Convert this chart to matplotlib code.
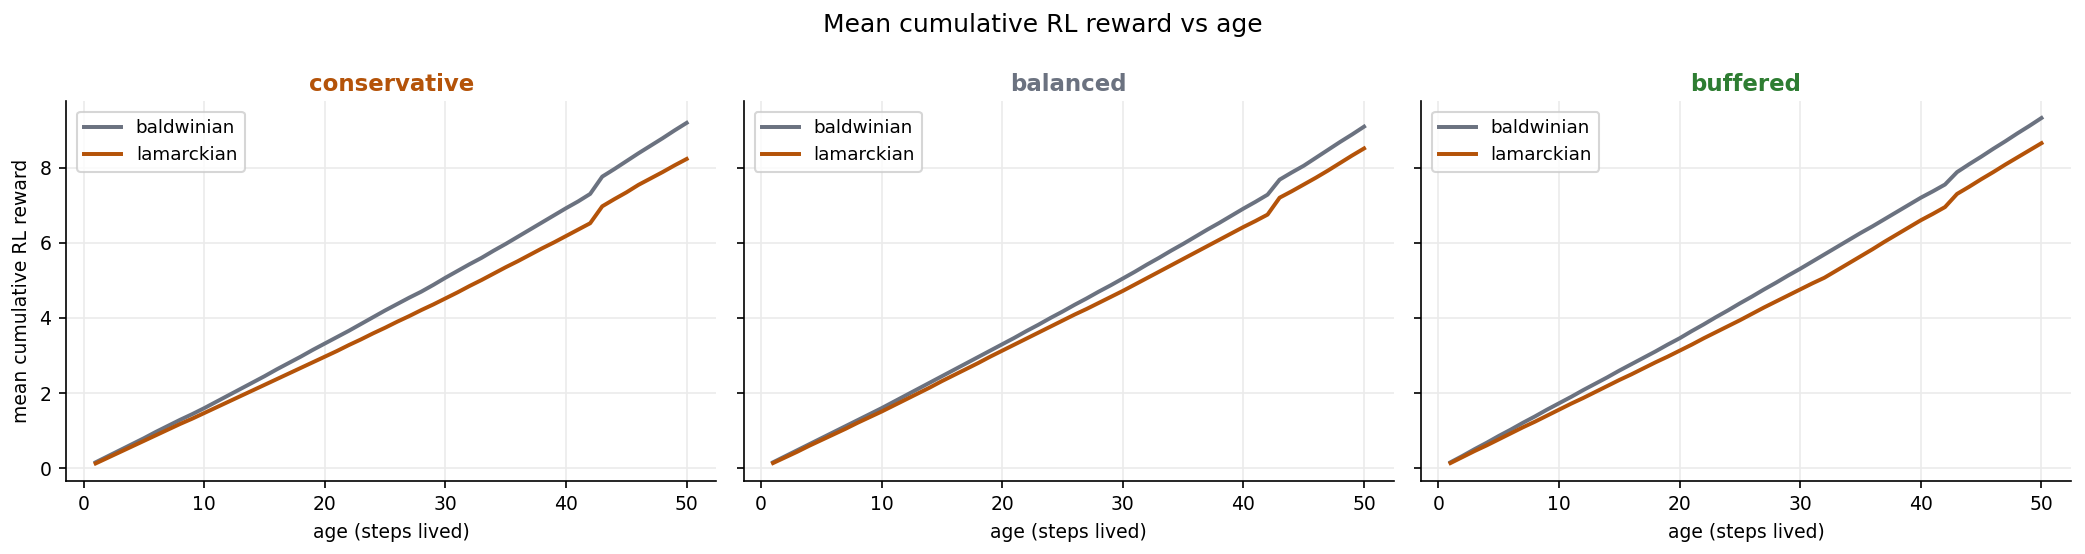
import matplotlib
matplotlib.use("Agg")
import matplotlib.pyplot as plt

ages = list(range(1, 51))

panels = ["conservative", "balanced", "buffered"]
title_colors = ["#b45309", "#6b7280", "#2e7d32"]
series_names = ["baldwinian", "lamarckian"]
series_colors = ["#6b7280", "#b45309"]

conservative_baldwinian = [
    0.16, 0.32, 0.48, 0.64, 0.80, 0.97, 1.13, 1.29, 1.44, 1.60,
    1.77, 1.94, 2.11, 2.28, 2.45, 2.63, 2.80, 2.97, 3.15, 3.32,
    3.49, 3.66, 3.84, 4.02, 4.20, 4.37, 4.54, 4.70, 4.88, 5.07,
    5.25, 5.43, 5.60, 5.79, 5.97, 6.16, 6.35, 6.54, 6.73, 6.92,
    7.10, 7.30, 7.76, 7.96, 8.17, 8.38, 8.58, 8.78, 8.99, 9.19,
]
conservative_lamarckian = [
    0.13, 0.28, 0.43, 0.58, 0.73, 0.88, 1.03, 1.18, 1.32, 1.47,
    1.62, 1.77, 1.92, 2.07, 2.22, 2.37, 2.52, 2.67, 2.82, 2.97,
    3.12, 3.28, 3.43, 3.59, 3.74, 3.90, 4.05, 4.21, 4.36, 4.52,
    4.68, 4.85, 5.01, 5.18, 5.35, 5.51, 5.68, 5.85, 6.01, 6.18,
    6.35, 6.52, 6.97, 7.16, 7.34, 7.54, 7.71, 7.88, 8.06, 8.23,
]
balanced_baldwinian = [
    0.16, 0.32, 0.48, 0.64, 0.80, 0.96, 1.12, 1.28, 1.44, 1.60,
    1.77, 1.94, 2.11, 2.28, 2.45, 2.62, 2.79, 2.96, 3.13, 3.30,
    3.47, 3.65, 3.82, 4.00, 4.17, 4.35, 4.52, 4.70, 4.87, 5.05,
    5.23, 5.42, 5.60, 5.79, 5.97, 6.16, 6.35, 6.53, 6.72, 6.91,
    7.09, 7.28, 7.68, 7.87, 8.05, 8.26, 8.47, 8.68, 8.88, 9.09,
]
balanced_lamarckian = [
    0.14, 0.29, 0.44, 0.60, 0.75, 0.90, 1.05, 1.21, 1.36, 1.51,
    1.67, 1.83, 1.99, 2.15, 2.32, 2.48, 2.64, 2.80, 2.97, 3.13,
    3.29, 3.45, 3.61, 3.77, 3.93, 4.09, 4.24, 4.40, 4.56, 4.72,
    4.89, 5.06, 5.23, 5.40, 5.57, 5.74, 5.91, 6.08, 6.25, 6.42,
    6.58, 6.75, 7.20, 7.37, 7.55, 7.73, 7.92, 8.12, 8.32, 8.51,
]
buffered_baldwinian = [
    0.16, 0.33, 0.51, 0.68, 0.86, 1.03, 1.21, 1.38, 1.56, 1.73,
    1.90, 2.08, 2.25, 2.42, 2.60, 2.77, 2.94, 3.11, 3.29, 3.46,
    3.65, 3.83, 4.02, 4.20, 4.39, 4.57, 4.76, 4.94, 5.13, 5.31,
    5.50, 5.69, 5.88, 6.07, 6.26, 6.44, 6.63, 6.82, 7.01, 7.20,
    7.37, 7.55, 7.88, 8.09, 8.29, 8.50, 8.70, 8.91, 9.11, 9.32,
]
buffered_lamarckian = [
    0.14, 0.30, 0.46, 0.61, 0.77, 0.93, 1.09, 1.24, 1.40, 1.56,
    1.72, 1.87, 2.03, 2.19, 2.35, 2.50, 2.66, 2.82, 2.97, 3.13,
    3.29, 3.46, 3.62, 3.78, 3.94, 4.11, 4.28, 4.44, 4.60, 4.76,
    4.92, 5.07, 5.26, 5.45, 5.64, 5.83, 6.03, 6.22, 6.41, 6.60,
    6.77, 6.95, 7.30, 7.49, 7.69, 7.88, 8.08, 8.27, 8.46, 8.65,
]

data = {
    "conservative": [conservative_baldwinian, conservative_lamarckian],
    "balanced": [balanced_baldwinian, balanced_lamarckian],
    "buffered": [buffered_baldwinian, buffered_lamarckian],
}

plt.rcParams["font.family"] = "DejaVu Sans"
fig, axes = plt.subplots(1, 3, figsize=(2085 / 150, 554 / 150), dpi=150, sharey=True)
fig.subplots_adjust(left=0.0317, right=0.9933, bottom=0.1323, top=0.8182, wspace=0.042)

for ax, name, tcol in zip(axes, panels, title_colors):
    for vals, sname, scol in zip(data[name], series_names, series_colors):
        ax.plot(ages, vals, color=scol, lw=1.9, label=sname)
    ax.set_title(name, color=tcol, fontweight="bold", fontsize=11, pad=4.8)
    ax.set_xlabel("age (steps lived)", fontsize=9)
    ax.grid(True, color="#ebebeb", linewidth=0.8)
    ax.set_axisbelow(True)
    ax.spines["top"].set_visible(False)
    ax.spines["right"].set_visible(False)
    ax.tick_params(labelsize=9)
    ax.legend(loc="upper left", fontsize=8.8, borderaxespad=0.6)

axes[0].set_ylabel("mean cumulative RL reward", fontsize=9)
fig.suptitle("Mean cumulative RL reward vs age", fontsize=12, y=0.955, va="center")

fig.savefig("out.png", dpi=150)
